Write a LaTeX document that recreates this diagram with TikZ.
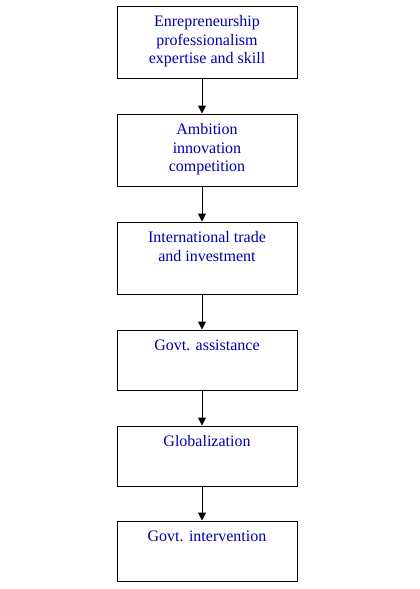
\documentclass[tikz,border=0pt]{standalone}
\usepackage{fontspec}
\setmainfont{Liberation Serif}
\usetikzlibrary{arrows.meta}
\definecolor{txtblue}{RGB}{0,0,170}

\begin{document}
\begin{tikzpicture}[x=0.75pt, y=-0.75pt,
    box/.style={draw, line width=0.75pt, minimum width=135pt, inner sep=0pt},
    txt/.style={text=txtblue, align=center, font=\fontsize{12}{13.9}\selectfont, inner sep=0pt, anchor=north}]
    \useasboundingbox (0, 0) rectangle (420, 589);

    \foreach \n/\y/\h/\lines in {1/42/72/{Enrepreneurship\\professionalism\\expertise and skill},
                                 2/150/72/{Ambition\\innovation\\competition},
                                 3/258/72/{International trade\\and investment},
                                 4/360/60/{Govt. assistance},
                                 5/456/60/{Globalization},
                                 6/551/60/{Govt. intervention}} {
        \node[box, minimum height=\h*0.75pt] (b\n) at (207, \y) {};
        \node[txt] (t\n) at ([yshift=-7.5pt]b\n.north) {\lines};
    }

    \foreach \a/\b in {1/2, 2/3, 3/4, 4/5, 5/6} {
        \draw[-{Triangle[length=6pt, width=6pt]}, line width=0.75pt] ([xshift=-3.75pt]b\a.south) -- ([xshift=-3.75pt]b\b.north);
    }
\end{tikzpicture}
\end{document}
